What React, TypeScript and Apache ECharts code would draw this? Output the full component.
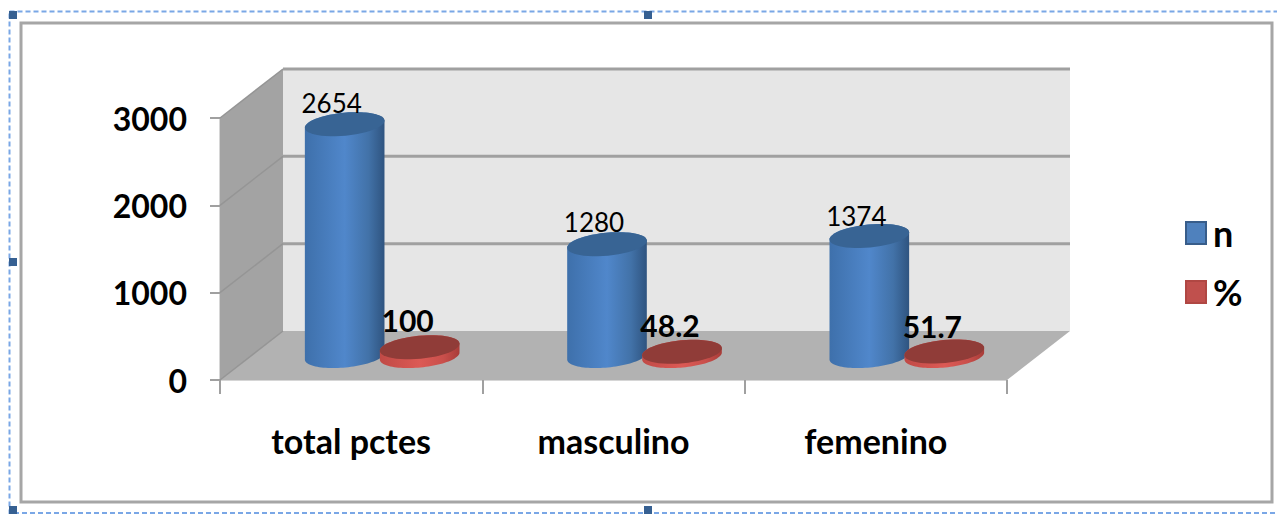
import React, { useEffect, useRef } from "react";
import * as echarts from "echarts";

const categories = ["total pctes", "masculino", "femenino"];
const nValues = [2654, 1280, 1374];
const pctValues = [100, 48.2, 51.7];
const yTicks = [0, 1000, 2000, 3000];
const FONT = "Lato, Carlito, sans-serif";

const DEPTH_X = 63;
const DEPTH_Y = -49;
const BAR_DX = 31;
const BAR_DY = -24;
const RX = 40;
const RY = 11.5;
const TILT = (5.5 * Math.PI) / 180;
const STEPS = 48;

function ellipsePoint(cx: number, cy: number, t: number) {
  const px = cx + RX * Math.cos(t) * Math.cos(TILT) + RY * Math.sin(t) * Math.sin(TILT);
  const py = cy - RX * Math.cos(t) * Math.sin(TILT) + RY * Math.sin(t) * Math.cos(TILT);
  return [px, py];
}

function arcPoints(cx: number, cy: number, from: number, to: number) {
  const pts: number[][] = [];
  for (let i = 0; i <= STEPS; i++) {
    pts.push(ellipsePoint(cx, cy, from + ((to - from) * i) / STEPS));
  }
  return pts;
}

function cylinderItem(
  values: number[],
  barOffset: number,
  palette: { stops: string[]; top: string },
  labelBold: boolean,
  labelDx: number,
  labelDy: number[],
  labelSize: number,
) {
  return (params: any, api: any) => {
    const idx = api.value(0);
    const val = api.value(1);
    const base = api.coord([idx, 0]);
    const head = api.coord([idx, val]);
    const cx = base[0] + barOffset + BAR_DX;
    const baseY = base[1] + BAR_DY;
    const topY = head[1] + BAR_DY;
    const sidePts = [
      ...arcPoints(cx, topY, Math.PI, 2 * Math.PI),
      ...arcPoints(cx, baseY, 0, Math.PI),
    ];
    const topPts = arcPoints(cx, topY, 0, 2 * Math.PI);
    return {
      type: "group",
      children: [
        {
          type: "polygon",
          shape: { points: sidePts },
          style: {
            fill: new echarts.graphic.LinearGradient(0, 0, 1, 0, [
              { offset: 0, color: palette.stops[0] },
              { offset: 0.5, color: palette.stops[1] },
              { offset: 0.8, color: palette.stops[2] },
              { offset: 1, color: palette.stops[3] },
            ]),
          },
        },
        {
          type: "polygon",
          shape: { points: topPts },
          style: { fill: palette.top },
        },
        {
          type: "text",
          x: cx + labelDx,
          y: topY + labelDy[idx],
          style: {
            text: String(values[idx]),
            fill: "#000000",
            font: `${labelBold ? "bold " : ""}${labelSize}px ${FONT}`,
            align: "center",
            verticalAlign: "middle",
          },
        },
      ],
    };
  };
}

function wallsItem(params: any, api: any) {
  const cs = params.coordSys;
  const x0 = cs.x;
  const x1 = cs.x + cs.width;
  const y0 = api.coord([0, 0])[1];
  const yTop = api.coord([0, 3000])[1];
  const children: any[] = [
    {
      type: "polygon",
      shape: {
        points: [
          [x0 + DEPTH_X, yTop + DEPTH_Y],
          [x1 + DEPTH_X, yTop + DEPTH_Y],
          [x1 + DEPTH_X, y0 + DEPTH_Y],
          [x0 + DEPTH_X, y0 + DEPTH_Y],
        ],
      },
      style: { fill: "#e6e6e6" },
    },
    {
      type: "polygon",
      shape: {
        points: [
          [x0, yTop],
          [x0 + DEPTH_X, yTop + DEPTH_Y],
          [x0 + DEPTH_X, y0 + DEPTH_Y],
          [x0, y0],
        ],
      },
      style: { fill: "#a3a3a3" },
    },
    {
      type: "polygon",
      shape: {
        points: [
          [x0, y0],
          [x0 + DEPTH_X, y0 + DEPTH_Y],
          [x1 + DEPTH_X, y0 + DEPTH_Y],
          [x1, y0],
        ],
      },
      style: { fill: "#b2b2b2" },
    },
  ];
  yTicks.forEach((t) => {
    const y = api.coord([0, t])[1];
    children.push({
      type: "line",
      shape: { x1: x0, y1: y, x2: x0 + DEPTH_X, y2: y + DEPTH_Y },
      style: { stroke: "#959595", lineWidth: 1.5 },
    });
    if (t > 0) {
      children.push({
        type: "line",
        shape: { x1: x0 + DEPTH_X, y1: y + DEPTH_Y, x2: x1 + DEPTH_X, y2: y + DEPTH_Y },
        style: { stroke: "#a0a0a0", lineWidth: 3 },
      });
    }
  });
  return { type: "group", children };
}

export default function App() {
  const ref = useRef<HTMLDivElement>(null);
  useEffect(() => {
    const chart = echarts.init(ref.current!, undefined, { renderer: "svg" });
    const handle = (x: number, y: number) => ({
      type: "rect",
      shape: { x: x - 4, y: y - 4, width: 8, height: 8 },
      style: { fill: "#366092" },
      z: 20,
    });
    const nPal = { stops: ["#3e70ab", "#5087cb", "#4272a8", "#2f5480"], top: "#386494" };
    const pPal = { stops: ["#c04a46", "#dc5a55", "#c94f4b", "#a83c38"], top: "#903c38" };
    chart.setOption({
      animation: false,
      backgroundColor: "#ffffff",
      grid: { left: 220, top: 118, width: 787, height: 262 },
      xAxis: {
        type: "category",
        data: categories,
        axisLine: { show: true, lineStyle: { color: "#c8c8c8", width: 1.5 } },
        axisTick: { show: true, length: 14, lineStyle: { color: "#a0a0a0", width: 2 } },
        axisLabel: {
          margin: 43,
          fontFamily: FONT,
          fontWeight: "bold",
          fontSize: 34,
          color: "#000000",
          lineHeight: 34,
        },
      },
      yAxis: {
        type: "value",
        min: 0,
        max: 3000,
        interval: 1000,
        axisLine: { show: true, lineStyle: { color: "#c8c8c8", width: 1.5 } },
        axisTick: { show: true, length: 10, lineStyle: { color: "#a0a0a0", width: 2 } },
        splitLine: { show: false },
        axisLabel: {
          margin: 33,
          fontFamily: FONT,
          fontWeight: "bold",
          fontSize: 32,
          color: "#000000",
          formatter: (v: number) => String(v),
        },
      },
      legend: {
        left: 1180,
        top: 210,
        orient: "vertical",
        itemWidth: 20,
        itemHeight: 22,
        itemGap: 23,
        textStyle: {
          fontFamily: FONT,
          fontWeight: "bold",
          fontSize: 36,
          color: "#000000",
          padding: [0, 0, 0, 2],
        },
        data: [
          { name: "n", icon: "rect", itemStyle: { color: "#4f81bd", borderColor: "#385d8a", borderWidth: 2 } },
          { name: "%", icon: "rect", itemStyle: { color: "#c0504d", borderColor: "#b04743", borderWidth: 2 } },
        ],
      },
      graphic: [
        {
          type: "rect",
          shape: { x: 21, y: 23, width: 1251, height: 479 },
          style: { fill: "none", stroke: "#a6a6a6", lineWidth: 3 },
          z: 0,
        },
        {
          type: "rect",
          shape: { x: 9.5, y: 11.5, width: 1290, height: 501.5 },
          style: { fill: "none", stroke: "#7aa7e6", lineWidth: 2, lineDash: [5, 3] },
          z: 19,
        },
        handle(13, 15),
        handle(648, 15),
        handle(13, 262),
        handle(13, 510),
        handle(648, 510),
      ],
      series: [
        {
          type: "custom",
          name: "walls",
          z: 1,
          silent: true,
          clip: false,
          renderItem: wallsItem,
          data: [[0, 0]],
        },
        {
          type: "custom",
          name: "n",
          z: 3,
          silent: true,
          clip: false,
          itemStyle: { color: "#4f81bd" },
          renderItem: cylinderItem(nValues, -37.5, nPal, false, -13, [-21, -22, -20], 26),
          data: categories.map((_, i) => [i, nValues[i]]),
        },
        {
          type: "custom",
          name: "%",
          z: 4,
          silent: true,
          clip: false,
          itemStyle: { color: "#c0504d" },
          renderItem: cylinderItem(pctValues, 37.5, pPal, true, -12, [-27, -27, -25], 30),
          data: categories.map((_, i) => [i, pctValues[i]]),
        },
      ],
    });
    return () => chart.dispose();
  }, []);
  return (
    <div
      ref={ref}
      style={{ position: "absolute", left: 0, top: 0, width: 1277, height: 525, overflow: "hidden" }}
    />
  );
}
